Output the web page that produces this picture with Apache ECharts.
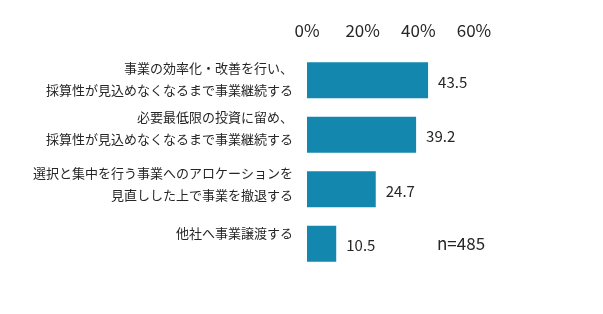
<!DOCTYPE html>
<html><head><meta charset="utf-8">
<script src="https://cdn.jsdelivr.net/npm/echarts@6/dist/echarts.min.js"></script>
<style>html,body{margin:0;padding:0;background:#fff}#c{width:603px;height:314px}</style>
</head><body><div id="c"></div>
<script>
const categories = [
  '事業の効率化・改善を行い、\n採算性が見込めなくなるまで事業継続する',
  '必要最低限の投資に留め、\n採算性が見込めなくなるまで事業継続する',
  '選択と集中を行う事業へのアロケーションを\n見直しした上で事業を撤退する',
  '他社へ事業譲渡する'
];
const values = [43.5, 39.2, 24.7, 10.5];
const axisTicks = [0, 20, 40, 60];
const sampleNote = 'n=485';

// label vertical nudges (style only, kept apart from the data)
const labelLift = [3, 14, 11, 22];

const font = '"Noto Sans CJK JP", "Noto Sans", sans-serif';
const baseText = {fontSize: 13, color: '#262626', fontFamily: font, lineHeight: 22, align: 'right'};
const rich = {n: Object.assign({}, baseText)};
labelLift.forEach((p, i) => { rich['s' + i] = {fontSize: 1, lineHeight: p, align: 'right'}; });

const chart = echarts.init(document.getElementById('c'), null, {renderer: 'canvas'});
chart.setOption({
  animation: false,
  backgroundColor: '#fff',
  grid: {left: 307, right: 129, top: 53, bottom: 43, containLabel: false},
  xAxis: {
    type: 'value', position: 'top',
    min: axisTicks[0], max: axisTicks[axisTicks.length - 1], interval: 20,
    axisLine: {show: false}, axisTick: {show: false}, splitLine: {show: false},
    axisLabel: {formatter: '{value}%', fontSize: 17, color: '#262626', fontFamily: font, margin: 14}
  },
  yAxis: {
    type: 'category', inverse: true, data: categories,
    axisLine: {show: false}, axisTick: {show: false},
    axisLabel: Object.assign({}, baseText, {
      margin: 14, verticalAlign: 'middle', rich: rich,
      formatter: (v, i) => v.split('\n').map(s => '{n|' + s + '}').join('\n') + '\n{s' + i + '| }'
    })
  },
  series: [{
    type: 'bar', data: values, barCategoryGap: '34%',
    itemStyle: {color: '#1387ae'},
    label: {show: true, position: 'right', distance: 10, fontSize: 15, color: '#262626', fontFamily: font, offset: [0, 2],
      formatter: p => p.value.toFixed(1)}
  }],
  graphic: [{
    type: 'text', left: 437, top: 235,
    style: {text: sampleNote, fontSize: 17, fill: '#262626', fontFamily: font}
  }]
});
</script></body></html>
